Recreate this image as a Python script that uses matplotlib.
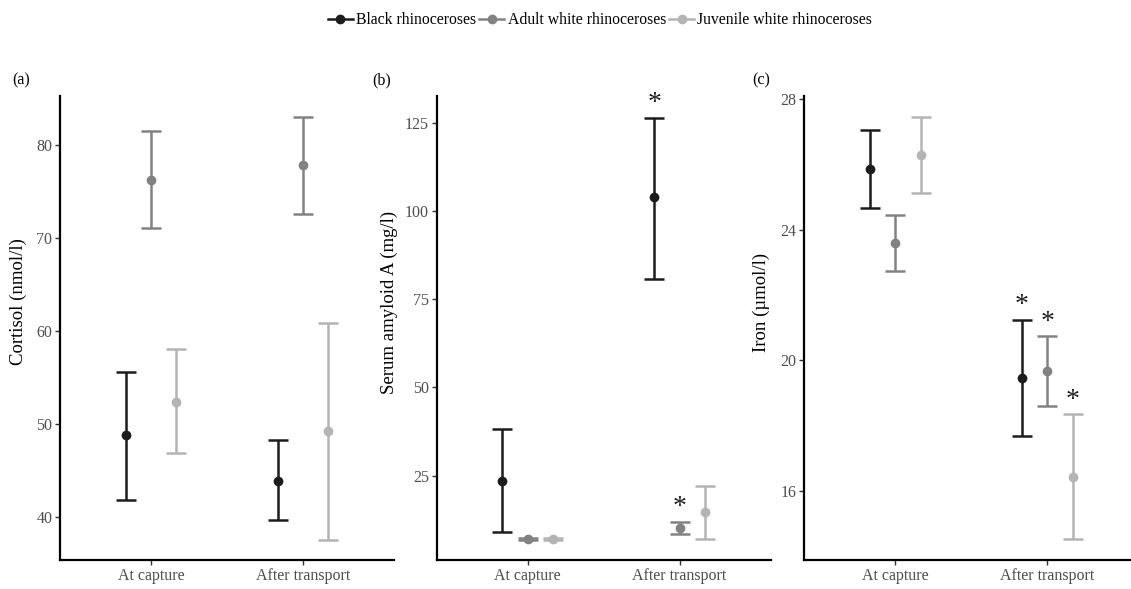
import matplotlib.pyplot as plt
from matplotlib.lines import Line2D

plt.rcParams['font.family'] = ['Liberation Serif', 'DejaVu Serif']

groups = ['Black rhinoceroses', 'Adult white rhinoceroses', 'Juvenile white rhinoceroses']
colors = ['#1c1c1c', '#828282', '#b4b4b4']
conditions = ['At capture', 'After transport']

# mean, lower and upper limit per group, [at capture, after transport]
cortisol_mean = [[48.8, 43.9], [76.3, 77.9], [52.4, 49.3]]
cortisol_low = [[41.9, 39.7], [71.1, 72.6], [46.9, 37.6]]
cortisol_high = [[55.6, 48.3], [81.5, 83.0], [58.1, 60.9]]

saa_mean = [[23.6, 103.9], [7.0, 10.3], [7.0, 14.6]]
saa_low = [[9.0, 80.8], [6.8, 8.6], [6.8, 7.0]]
saa_high = [[38.3, 126.5], [7.2, 12.0], [7.2, 22.0]]

iron_mean = [[25.85, 19.46], [23.6, 19.66], [26.29, 16.42]]
iron_low = [[24.67, 17.69], [22.74, 18.59], [25.12, 14.52]]
iron_high = [[27.04, 21.24], [24.44, 20.74], [27.44, 18.35]]

# significant change after transport: (group index, condition index)
saa_stars = [(0, 1), (1, 1)]
iron_stars = [(0, 1), (1, 1), (2, 1)]

panels = [
    ('(a)', 'Cortisol (nmol/l)', cortisol_mean, cortisol_low, cortisol_high, [],
     (35.4, 85.3), [40, 50, 60, 70, 80]),
    ('(b)', 'Serum amyloid A (mg/l)', saa_mean, saa_low, saa_high, saa_stars,
     (1.1, 132.6), [25, 50, 75, 100, 125]),
    ('(c)', 'Iron (\u00b5mol/l)', iron_mean, iron_low, iron_high, iron_stars,
     (13.89, 28.09), [16, 20, 24, 28]),
]

fig = plt.figure(figsize=(11.31, 5.89), dpi=100)
W, H = 1131, 589
lefts = [60, 436.7, 804.3]
width = 334
bottom, top = 560, 96
label_pos = [(12, 80), (372, 80), (752, 80)]
ylab_x = [27, 398, 770]

offsets = [-1 / 6, 0, 1 / 6]

for i, (tag, ylab, mean, low, high, stars, ylim, yticks) in enumerate(panels):
    ax = fig.add_axes([lefts[i] / W, (H - bottom) / H, width / W, (bottom - top) / H])
    for g in range(3):
        xs = [c + 1 + offsets[g] for c in range(2)]
        yerr = [[mean[g][c] - low[g][c] for c in range(2)],
                [high[g][c] - mean[g][c] for c in range(2)]]
        ax.errorbar(xs, mean[g], yerr=yerr, fmt='o', color=colors[g],
                    markersize=6, elinewidth=1.8, capsize=7.5, capthick=1.8)
    for g, c in stars:
        ax.annotate('*', (c + 1 + offsets[g], high[g][c]), xytext=(0, 1),
                    textcoords='offset points', ha='center', va='bottom',
                    fontsize=20, color='#1c1c1c')
    ax.set_xlim(0.4, 2.6)
    ax.set_ylim(*ylim)
    ax.set_xticks([1, 2])
    ax.set_xticklabels(conditions)
    ax.set_yticks(yticks)
    ax.set_ylabel(ylab, fontsize=13.5)
    ax.yaxis.set_label_coords((ylab_x[i] - lefts[i]) / width, (bottom - 302) / (bottom - top))
    ax.tick_params(labelsize=11.5, colors='#333333', labelcolor='#4d4d4d',
                   length=3.5, width=1, pad=2)
    for side in ['top', 'right']:
        ax.spines[side].set_visible(False)
    for side in ['left', 'bottom']:
        ax.spines[side].set_linewidth(1.6)
        ax.spines[side].set_color('black')
    fig.text(label_pos[i][0] / W, 1 - label_pos[i][1] / H, tag, fontsize=11.5,
             va='center', ha='left')

handles = [Line2D([], [], color=colors[g], marker='o', markersize=6, linewidth=1.8)
           for g in range(3)]
fig.legend(handles, groups, loc='center', bbox_to_anchor=(0.5305, 1 - 20 / H),
           ncol=3, frameon=False, fontsize=11.3, handlelength=1.6,
           handletextpad=0.2, columnspacing=0.2)

fig.savefig('out.png', dpi=100)
